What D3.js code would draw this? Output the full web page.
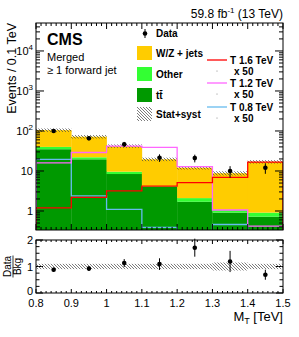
<!DOCTYPE html>
<html>
<head>
<meta charset="utf-8">
<script src="https://cdn.jsdelivr.net/npm/d3@7"></script>
<style>
  body { margin: 0; background: #fff; }
  svg { display: block; }
  text { font-family: "Liberation Sans", Arial, Helvetica, sans-serif; fill: #000; }
</style>
</head>
<body>
<div id="chart"></div>
<script>
// bin edges in TeV
const binEdges = [0.8, 0.9, 1.0, 1.1, 1.2, 1.3, 1.4, 1.5];

// background components (events / 0.1 TeV)
const ttbar = [35, 19.6, 8.4, 4.0, 1.7, 0.91, 0.72];
const other = [5, 2.4, 1.2, 0.2, 0.4, 0.15, 0.19];
const wzJets = [65, 50, 32.4, 15.4, 10, 7.74, 16.1];
const bkgUnc = [0.1, 0.1, 0.1, 0.1, 0.1, 0.12, 0.1]; // relative stat+syst

const data = [100, 66, 46.5, 21.5, 21, 10, 12];
const dataErr = [10, 8.1, 6.8, 4.6, 4.6, 3.2, 3.5];

// signals, already scaled x 50
const sig16 = [1.2, 2.2, 3.2, 4.2, 5.1, 6.9, 16.6];
const sig12 = [16, 29, 42, 39, 12.8, 1.06, 0.42];
const sig08 = [19.6, 2.4, 1.1, 0.39, 0.25, 0.46, 0.2];

// ratio panel
const ratio = [0.88, 0.92, 1.13, 1.09, 1.71, 1.19, 0.69];
const ratioErr = [0.08, 0.09, 0.15, 0.22, 0.34, 0.4, 0.19];
const ratioBand = [0.1, 0.1, 0.1, 0.1, 0.1, 0.15, 0.1];

const yMajor = [1, 10, 100, 1000, 10000];
const xMajor = [0.8, 0.9, 1.0, 1.1, 1.2, 1.3, 1.4, 1.5];

const width = 299, height = 337;
const left = 36, right = 283;
const mainTop = 23, mainBottom = 230;
const ratTop = 240, ratBottom = 293;

const svg = d3.select("#chart").append("svg")
    .attr("width", width)
    .attr("height", height);

const defs = svg.append("defs");
const hatch = defs.append("pattern")
    .attr("id", "hatch")
    .attr("patternUnits", "userSpaceOnUse")
    .attr("width", 3).attr("height", 3);
hatch.append("path")
    .attr("d", "M-1,-1 L4,4 M-1,2 L1,4 M2,-1 L4,1")
    .attr("stroke", "#444").attr("stroke-width", 0.7);

defs.append("clipPath").attr("id", "clipMain")
    .append("rect")
    .attr("x", left).attr("y", mainTop)
    .attr("width", right - left).attr("height", mainBottom - mainTop);

const x = d3.scaleLinear().domain([0.8, 1.5]).range([left, right]);
const y = d3.scaleLog().domain([0.335, 5e4]).range([mainBottom, mainTop]);
const yr = d3.scaleLinear().domain([0, 2]).range([ratBottom, ratTop]);

// stacked background
const rows = binEdges.slice(0, -1).map((e, i) => ({
    lo: e, hi: binEdges[i + 1], ttbar: ttbar[i], other: other[i], wz: wzJets[i]
}));
const stack = d3.stack().keys(["ttbar", "other", "wz"])(rows);
const colors = { ttbar: "#009900", other: "#33ff33", wz: "#ffcc00" };

const plot = svg.append("g").attr("clip-path", "url(#clipMain)");

stack.forEach(layer => {
    plot.append("g")
        .selectAll("rect")
        .data(layer)
        .enter().append("rect")
        .attr("x", d => x(d.data.lo))
        .attr("width", d => x(d.data.hi) - x(d.data.lo) + 0.3)
        .attr("y", d => y(d[1]))
        .attr("height", d => y(Math.max(d[0], 0.335)) - y(d[1]))
        .style("fill", colors[layer.key]);
});

// stat+syst band
const totals = rows.map(r => r.ttbar + r.other + r.wz);
plot.append("g")
    .selectAll("rect")
    .data(rows)
    .enter().append("rect")
    .attr("x", d => x(d.lo))
    .attr("width", d => x(d.hi) - x(d.lo))
    .attr("y", (d, i) => y(totals[i] * (1 + bkgUnc[i])))
    .attr("height", (d, i) => y(totals[i] * (1 - bkgUnc[i])) - y(totals[i] * (1 + bkgUnc[i])))
    .style("fill", "url(#hatch)");

// signal step lines
function stepPoints(vals) {
    const pts = [[binEdges[0], 0.01]];
    vals.forEach((v, i) => { pts.push([binEdges[i], v]); pts.push([binEdges[i + 1], v]); });
    pts.push([binEdges[binEdges.length - 1], 0.01]);
    return pts;
}
const stepLine = d3.line().x(d => x(d[0])).y(d => y(d[1]));
const signals = [
    { vals: sig08, color: "#66bbee" },
    { vals: sig12, color: "#ff66ff" },
    { vals: sig16, color: "#ff0000" }
];
signals.forEach(s => {
    plot.append("path")
        .attr("d", stepLine(stepPoints(s.vals)))
        .style("fill", "none")
        .style("stroke", s.color)
        .style("stroke-width", 1.3);
});

// data points
const centers = rows.map(r => (r.lo + r.hi) / 2);
const dataG = plot.append("g");
dataG.selectAll("line")
    .data(data)
    .enter().append("line")
    .attr("x1", (d, i) => x(centers[i])).attr("x2", (d, i) => x(centers[i]))
    .attr("y1", (d, i) => y(d + dataErr[i])).attr("y2", (d, i) => y(d - dataErr[i]))
    .style("stroke", "#000").style("stroke-width", 1);
dataG.selectAll("circle")
    .data(data)
    .enter().append("circle")
    .attr("cx", (d, i) => x(centers[i]))
    .attr("cy", d => y(d))
    .attr("r", 2.3)
    .style("fill", "#000");

// ---- axes for main panel ----
const axes = svg.append("g").style("stroke", "#000").style("stroke-width", 1);
axes.append("rect")
    .attr("x", left).attr("y", mainTop)
    .attr("width", right - left).attr("height", mainBottom - mainTop)
    .style("fill", "none");

const yMinor = [];
for (let e = -1; e <= 4; e++) for (let m = 2; m <= 9; m++) {
    const v = m * Math.pow(10, e);
    if (v > 0.335 && v < 5e4) yMinor.push(v);
}
[[left, 1], [right, -1]].forEach(([x0, dir]) => {
    axes.selectAll(null).data(yMajor).enter().append("line")
        .attr("x1", x0).attr("x2", x0 + dir * 8)
        .attr("y1", d => y(d)).attr("y2", d => y(d));
    axes.selectAll(null).data(yMinor).enter().append("line")
        .attr("x1", x0).attr("x2", x0 + dir * 4)
        .attr("y1", d => y(d)).attr("y2", d => y(d));
});

const xMinor = [];
for (let i = 0; i < xMajor.length - 1; i++)
    for (let k = 1; k < 7; k++) xMinor.push(xMajor[i] + k * 0.1 / 7);

function xTicks(yTop, yBot, major, minor) {
    [[yTop, 1], [yBot, -1]].forEach(([y0, dir]) => {
        axes.selectAll(null).data(xMajor).enter().append("line")
            .attr("x1", d => x(d)).attr("x2", d => x(d))
            .attr("y1", y0).attr("y2", y0 + dir * major);
        axes.selectAll(null).data(xMinor).enter().append("line")
            .attr("x1", d => x(d)).attr("x2", d => x(d))
            .attr("y1", y0).attr("y2", y0 + dir * minor);
    });
}
xTicks(mainTop, mainBottom, 6, 3);

const yLab = svg.append("g").style("font-size", "11px").attr("text-anchor", "end");
yMajor.forEach(v => {
    const t = yLab.append("text").attr("x", 33).attr("y", y(v) + 4);
    if (v < 100) {
        t.text(String(v));
    } else {
        t.attr("x", 33).append("tspan").text("10");
        t.append("tspan").attr("dy", -5).style("font-size", "8px").text(String(Math.log10(v)));
    }
});

svg.append("text")
    .attr("transform", `translate(16,${mainTop}) rotate(-90)`)
    .attr("text-anchor", "end")
    .style("font-size", "12.5px")
    .text("Events / 0.1 TeV");

// title
const title = svg.append("text")
    .attr("x", right).attr("y", 18)
    .attr("text-anchor", "end")
    .style("font-size", "12px");
title.append("tspan").text("59.8 fb");
title.append("tspan").attr("dy", -5).style("font-size", "8px").text("-1");
title.append("tspan").attr("dy", 5).text(" (13 TeV)");

svg.append("text").attr("x", 47).attr("y", 45)
    .style("font-size", "16px").style("font-weight", "bold").text("CMS");
svg.append("text").attr("x", 47).attr("y", 61)
    .style("font-size", "11px").text("Merged");
svg.append("text").attr("x", 47).attr("y", 74)
    .style("font-size", "11px").text("\u2265 1 forward jet");

// ---- legend ----
const leg = svg.append("g").style("font-size", "10px").style("font-weight", "bold");
leg.append("line").attr("x1", 145).attr("x2", 145).attr("y1", 29).attr("y2", 38)
    .style("stroke", "#000");
leg.append("circle").attr("cx", 145).attr("cy", 33.5).attr("r", 2.3).style("fill", "#000");
leg.append("text").attr("x", 156).attr("y", 37).text("Data");

const legBoxes = [
    { label: "W/Z + jets", fill: colors.wz, y0: 46 },
    { label: "Other", fill: colors.other, y0: 67 },
    { label: "t", fill: colors.ttbar, y0: 88 },
    { label: "Stat+syst", fill: "url(#hatch)", y0: 107 }
];
legBoxes.forEach(b => {
    leg.append("rect").attr("x", 137).attr("y", b.y0).attr("width", 15).attr("height", 14)
        .style("fill", b.fill);
    const t = leg.append("text").attr("x", 156).attr("y", b.y0 + 11);
    if (b.label === "t") {
        t.append("tspan").text("t");
        t.append("tspan").text("t\u0304");
    } else {
        t.text(b.label);
    }
});

const sigLeg = [
    { label: "T 1.6 TeV", color: "#ff0000", y0: 60 },
    { label: "T 1.2 TeV", color: "#ff66ff", y0: 83 },
    { label: "T 0.8 TeV", color: "#66bbee", y0: 107 }
];
sigLeg.forEach(s => {
    leg.append("line").attr("x1", 207).attr("x2", 227).attr("y1", s.y0).attr("y2", s.y0)
        .style("stroke", s.color).style("stroke-width", 1.3);
    leg.append("text").attr("x", 230).attr("y", s.y0 + 4).text(s.label);
    leg.append("circle").attr("cx", 217).attr("cy", s.y0 + 11).attr("r", 0.4).style("fill", "#000");
    leg.append("text").attr("x", 234).attr("y", s.y0 + 15).text("x 50");
});

// ---- ratio panel ----
const rat = svg.append("g");
rat.selectAll("rect")
    .data(rows)
    .enter().append("rect")
    .attr("x", d => x(d.lo))
    .attr("width", d => x(d.hi) - x(d.lo))
    .attr("y", (d, i) => yr(1 + ratioBand[i]))
    .attr("height", (d, i) => yr(1 - ratioBand[i]) - yr(1 + ratioBand[i]))
    .style("fill", "url(#hatch)");
rat.selectAll("line")
    .data(ratio)
    .enter().append("line")
    .attr("x1", (d, i) => x(centers[i])).attr("x2", (d, i) => x(centers[i]))
    .attr("y1", (d, i) => yr(d + ratioErr[i])).attr("y2", (d, i) => yr(d - ratioErr[i]))
    .style("stroke", "#000");
rat.selectAll("circle")
    .data(ratio)
    .enter().append("circle")
    .attr("cx", (d, i) => x(centers[i]))
    .attr("cy", d => yr(d))
    .attr("r", 2.3)
    .style("fill", "#000");

axes.append("rect")
    .attr("x", left).attr("y", ratTop)
    .attr("width", right - left).attr("height", ratBottom - ratTop)
    .style("fill", "none");
xTicks(ratTop, ratBottom, 4, 2);
const ratMinor = d3.range(0, 2.01, 0.25);
[[left, 1], [right, -1]].forEach(([x0, dir]) => {
    axes.selectAll(null).data(ratMinor).enter().append("line")
        .attr("x1", x0).attr("x2", d => x0 + dir * (d % 1 === 0 ? 7 : 3.5))
        .attr("y1", d => yr(d)).attr("y2", d => yr(d));
});

const rLab = svg.append("g").style("font-size", "11px").attr("text-anchor", "end");
[0, 1, 2].forEach(v => rLab.append("text").attr("x", 33).attr("y", yr(v) + (v === 0 ? 2 : 4)).text(v));

const xLab = svg.append("g").style("font-size", "11px").attr("text-anchor", "middle");
xMajor.forEach(v => xLab.append("text").attr("x", x(v)).attr("y", 307)
    .text(v === 1 ? "1" : String(v)));

const xt = svg.append("text").attr("x", right).attr("y", 321)
    .attr("text-anchor", "end").style("font-size", "13px");
xt.append("tspan").text("M");
xt.append("tspan").attr("dy", 3).style("font-size", "9px").text("T");
xt.append("tspan").attr("dy", -3).text(" [TeV]");

// Data / Bkg fraction label
const frac = svg.append("g").attr("transform", `translate(13,${(ratTop + ratBottom) / 2}) rotate(-90)`)
    .style("font-size", "10px").attr("text-anchor", "middle");
frac.append("text").attr("x", 0).attr("y", -2).text("Data");
frac.append("text").attr("x", 0).attr("y", 8).text("Bkg");
frac.append("line").attr("x1", -11).attr("x2", 11).attr("y1", 0).attr("y2", 0)
    .style("stroke", "#000").style("stroke-width", 0.8);
</script>
</body>
</html>
